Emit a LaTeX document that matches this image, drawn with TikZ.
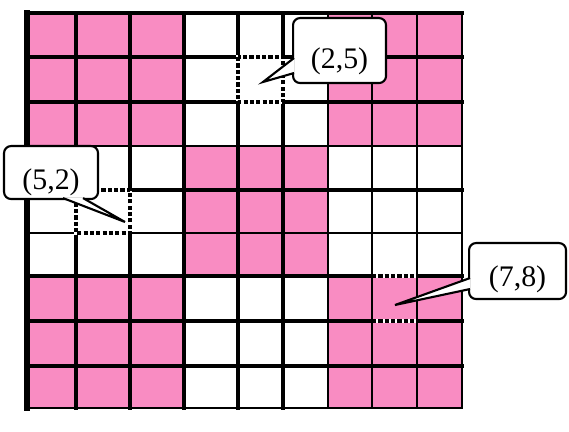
\documentclass[tikz,border=0pt]{standalone}
\usepackage{fontspec}
\setmainfont{Liberation Serif}
\usepackage{tikz}
\usetikzlibrary{calc}
\definecolor{cellpink}{HTML}{F98CC2}

\tikzset{
    blockfill/.style={fill=cellpink},
    markcell/.style={preaction={draw=white, line width=2.8pt, solid}, draw=black, line width=1.8pt, dash pattern=on 2.4pt off 1.2pt},
    balloon/.style={draw, fill=white, rounded corners=4pt, line width=1.2pt, inner sep=0pt, font=\fontsize{17}{20}\selectfont},
    balloontip/.style={draw, fill=white, line width=1.2pt, line join=miter}
}

\begin{document}
\begin{tikzpicture}[x=0.02cm, y=-0.02cm]
    \useasboundingbox (0,0) rectangle (569,432);

    % Pink blocks
    \foreach \xa/\ya/\xb/\yb in {27/13/184/146, 328/13/462/146, 184/146/328/276, 27/276/184/408, 328/276/462/408}
        \fill[blockfill] (\xa,\ya) rectangle (\xb,\yb);

    % Grid
    \foreach \x/\w in {27/3.0, 76/2.1, 130/2.1, 184/2.1, 238/2.6, 283/1.9, 328/1.0, 372/1.0, 417/1.0, 462/1.3}
        \draw[line width=\w pt, line cap=rect] (\x,13) -- (\x,408);
    \foreach \y/\w in {13/2.3, 57/2.2, 102/2.1, 146/1.0, 190/2.3, 233/1.0, 276/2.4, 321/1.8, 366/2.3, 408/1.0}
        \draw[line width=\w pt, line cap=rect] (27,\y) -- (462,\y);

    % Marked cells
    \draw[markcell] (238,57) rectangle (283,102);
    \draw[markcell] (76,190) rectangle (130,233);
    \draw[markcell] (372,276) -- (417,276) (372,321) -- (417,321);

    \coordinate (t25) at (263,82);
    \coordinate (t52) at (125,222);
    \coordinate (t78) at (395,305);

    % Callouts
    \node[balloon, anchor=north west, minimum width=1.86cm, text height=1.0cm, text depth=0.3cm] (c25) at (292,17) {(2,5)};
    \node[balloon, anchor=north west, minimum width=1.88cm, text height=0.86cm, text depth=0.2cm] (c52) at (3,145) {(5,2)};
    \node[balloon, anchor=north west, minimum width=1.94cm, text height=0.86cm, text depth=0.26cm] (c78) at (468,242) {(7,8)};

    \draw[balloontip] ($(c25.west)+(2,7.5)$) -- (t25) -- ($(c25.west)+(2,22.5)$);
    \draw[balloontip] ($(c52.south)+(12,-2)$) -- (t52) -- ($(c52.south)+(32,-2)$);
    \draw[balloontip] ($(c78.west)+(2,7)$) -- (t78) -- ($(c78.west)+(2,18)$);
\end{tikzpicture}
\end{document}
